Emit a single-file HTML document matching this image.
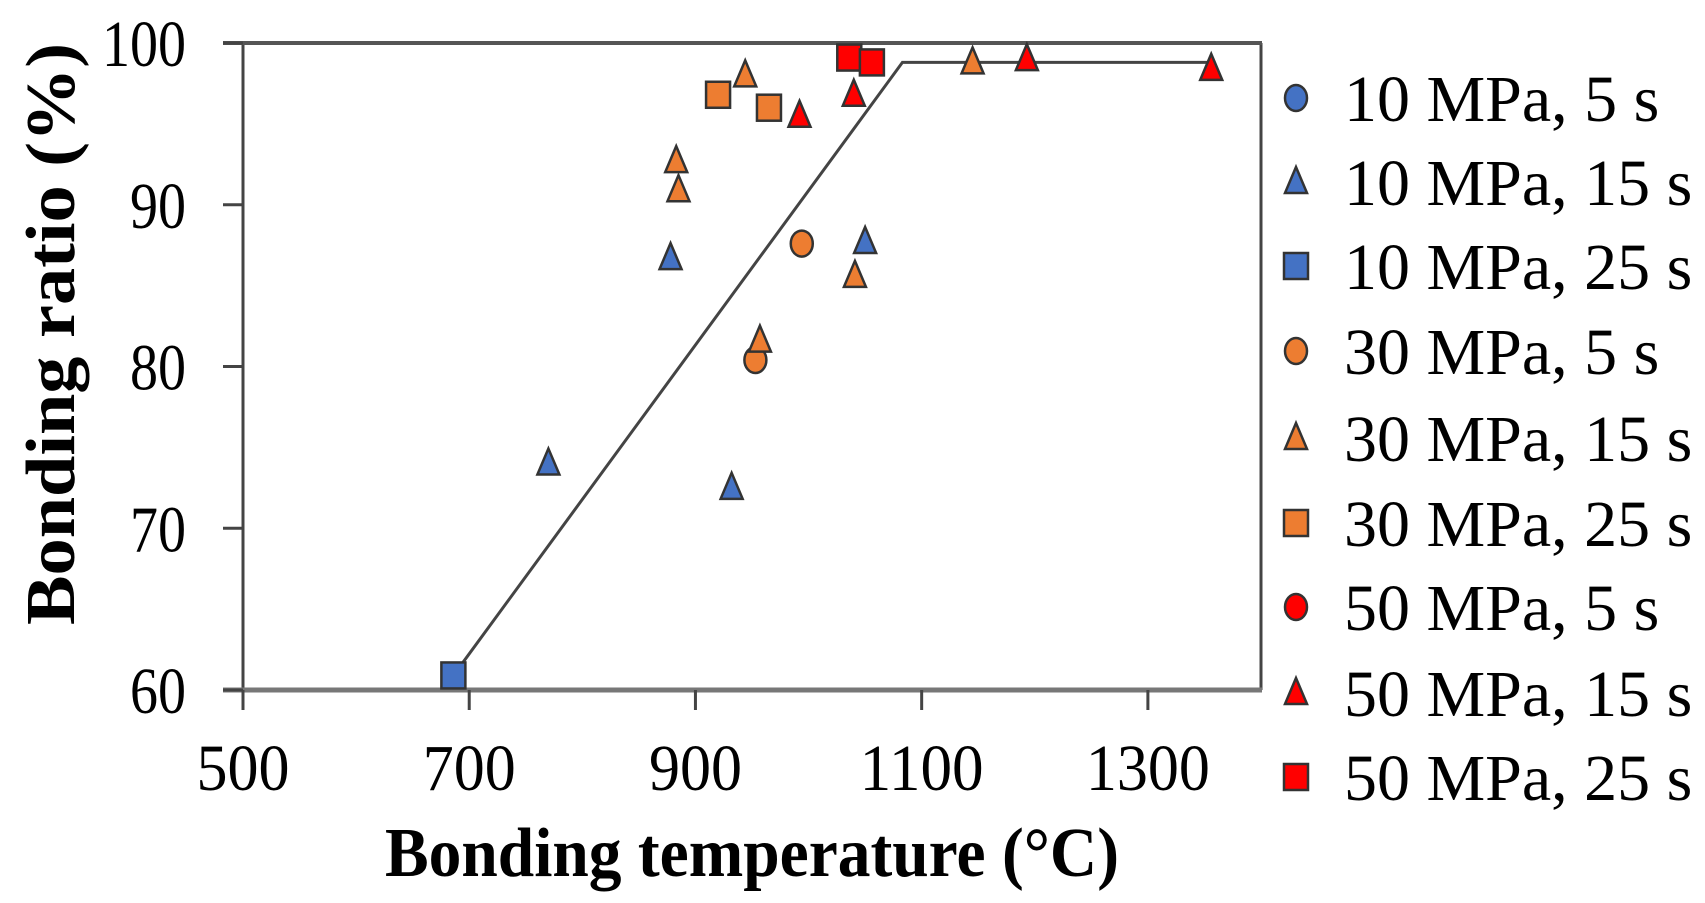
<!DOCTYPE html>
<html><head><meta charset="utf-8"><style>
html,body{margin:0;padding:0;background:#fff;}
svg{display:block;}
text{font-family:"Liberation Serif",serif;fill:#000;}
</style></head><body>
<svg id="chart" width="1705" height="903" viewBox="0 0 1705 903" xmlns="http://www.w3.org/2000/svg">
<g id="plot"></g>
</svg>
<script>
const xTicks=[500,700,900,1100,1300];
const yTicks=[60,70,80,90,100];
const seriesNames=["10 MPa, 5 s","10 MPa, 15 s","10 MPa, 25 s","30 MPa, 5 s","30 MPa, 15 s","30 MPa, 25 s","50 MPa, 5 s","50 MPa, 15 s","50 MPa, 25 s"];
const seriesShapes=["circle","triangle","square","circle","triangle","square","circle","triangle","square"];
const seriesColors=["#4472C4","#4472C4","#4472C4","#ED7D31","#ED7D31","#ED7D31","#FF0000","#FF0000","#FF0000"];
const s10_5x=[],s10_5y=[];
const s10_15x=[770,878,932,1050],s10_15y=[74.0,86.7,72.5,87.7];
const s10_25x=[686],s10_25y=[60.9];
const s30_5x=[994,953],s30_5y=[87.6,80.4];
const s30_15x=[944,883,885,1041,957,1145],s30_15y=[98.0,92.7,90.9,85.6,81.6,98.8];
const s30_25x=[920,965],s30_25y=[96.8,96.0];
const s50_5x=[],s50_5y=[];
const s50_15x=[992,1040,1193,1356],s50_15y=[95.5,96.8,99.0,98.4];
const s50_25x=[1036,1056],s50_25y=[99.1,98.8];
const fitX=[686,1083,1356],fitY=[60.9,98.8,98.8];

const NS="http://www.w3.org/2000/svg";
const L=243,R=1261,T=43,B=690,X0=500,X1=1400,Y0=60,Y1=100;
const sx=v=>L+(v-X0)/(X1-X0)*(R-L);
const sy=v=>B-(v-Y0)/(Y1-Y0)*(B-T);
const svg=document.getElementById('chart');
const g=document.getElementById('plot');
function mk(tag,attrs,parent){const e=document.createElementNS(NS,tag);for(const k in attrs)e.setAttribute(k,attrs[k]);(parent||svg).appendChild(e);return e;}

let e=mk('line',{x1:R,y1:T,x2:R,y2:B,stroke:'#444','stroke-width':3},g);


e=mk('line',{x1:L,y1:T,x2:L,y2:B+20,stroke:'#444','stroke-width':3},g);


e=mk('line',{x1:223,y1:T,x2:R+1,y2:T,stroke:'#555','stroke-width':4},g);


e=mk('line',{x1:223,y1:B,x2:R+1,y2:B,stroke:'#777','stroke-width':5},g);



xTicks.forEach(v=>{
  let t=mk('line',{x1:sx(v),y1:B,x2:sx(v),y2:B+20,stroke:'#444','stroke-width':3});
  
  
  let s=String(v);
  let tx=mk('text',{x:sx(v),y:790,'text-anchor':'middle','font-size':66,textLength:s.length*31,lengthAdjust:'spacingAndGlyphs'});
  tx.textContent=s;
  
  
});
yTicks.forEach(v=>{
  let t=mk('line',{x1:223,y1:sy(v),x2:L,y2:sy(v),stroke:'#444','stroke-width':3});
  
  
  let s=String(v);
  let tx=mk('text',{x:186,y:sy(v)+23,'text-anchor':'end','font-size':66,textLength:s.length*28,lengthAdjust:'spacingAndGlyphs'});
  tx.textContent=s;
  
  
});

e=mk('polyline',{points:fitX.map((x,i)=>sx(x)+','+sy(fitY[i])).join(' '),fill:'none',stroke:'#444','stroke-width':3},g);



function marker(shape,cx,cy,color,parent){
  let m;
  if(shape==='circle') m=mk('ellipse',{cx:cx,cy:cy,rx:11,ry:13,fill:color,stroke:'#333','stroke-width':2.5},parent);
  else if(shape==='square') m=mk('rect',{x:cx-12,y:cy-13,width:24,height:26,fill:color,stroke:'#333','stroke-width':2.5},parent);
  else m=mk('polygon',{points:`${cx},${cy-15} ${cx+11},${cy+11} ${cx-11},${cy+11}`,fill:color,stroke:'#333','stroke-width':2.5},parent);
  return m;
}
const allX=[s10_5x,s10_15x,s10_25x,s30_5x,s30_15x,s30_25x,s50_5x,s50_15x,s50_25x];
const allY=[s10_5y,s10_15y,s10_25y,s30_5y,s30_15y,s30_25y,s50_5y,s50_15y,s50_25y];
allX.forEach((xs,si)=>{
  xs.forEach((x,i)=>{
    let m=marker(seriesShapes[si],sx(x),sy(allY[si][i]),seriesColors[si],g);
    
    
  });
});

const lg=mk('g',{});


const legendY=[98,182,266,351,438,523,607,693,777];
seriesNames.forEach((n,i)=>{
  let m=marker(seriesShapes[i],1296,legendY[i],seriesColors[i],lg);
  
  
  let t=mk('text',{x:1344,y:legendY[i]+23,'font-size':66},lg);
  t.textContent=n;
  
  
});

e=mk('text',{x:752,y:876,'text-anchor':'middle','font-size':70,'font-weight':'bold',textLength:734,lengthAdjust:'spacingAndGlyphs'});
e.textContent='Bonding temperature (°C)';


e=mk('text',{x:0,y:0,'text-anchor':'middle','font-size':70,'font-weight':'bold',textLength:582,lengthAdjust:'spacingAndGlyphs',transform:'translate(74,334) rotate(-90)'});
e.textContent='Bonding ratio (%)';


</script>
</body></html>
